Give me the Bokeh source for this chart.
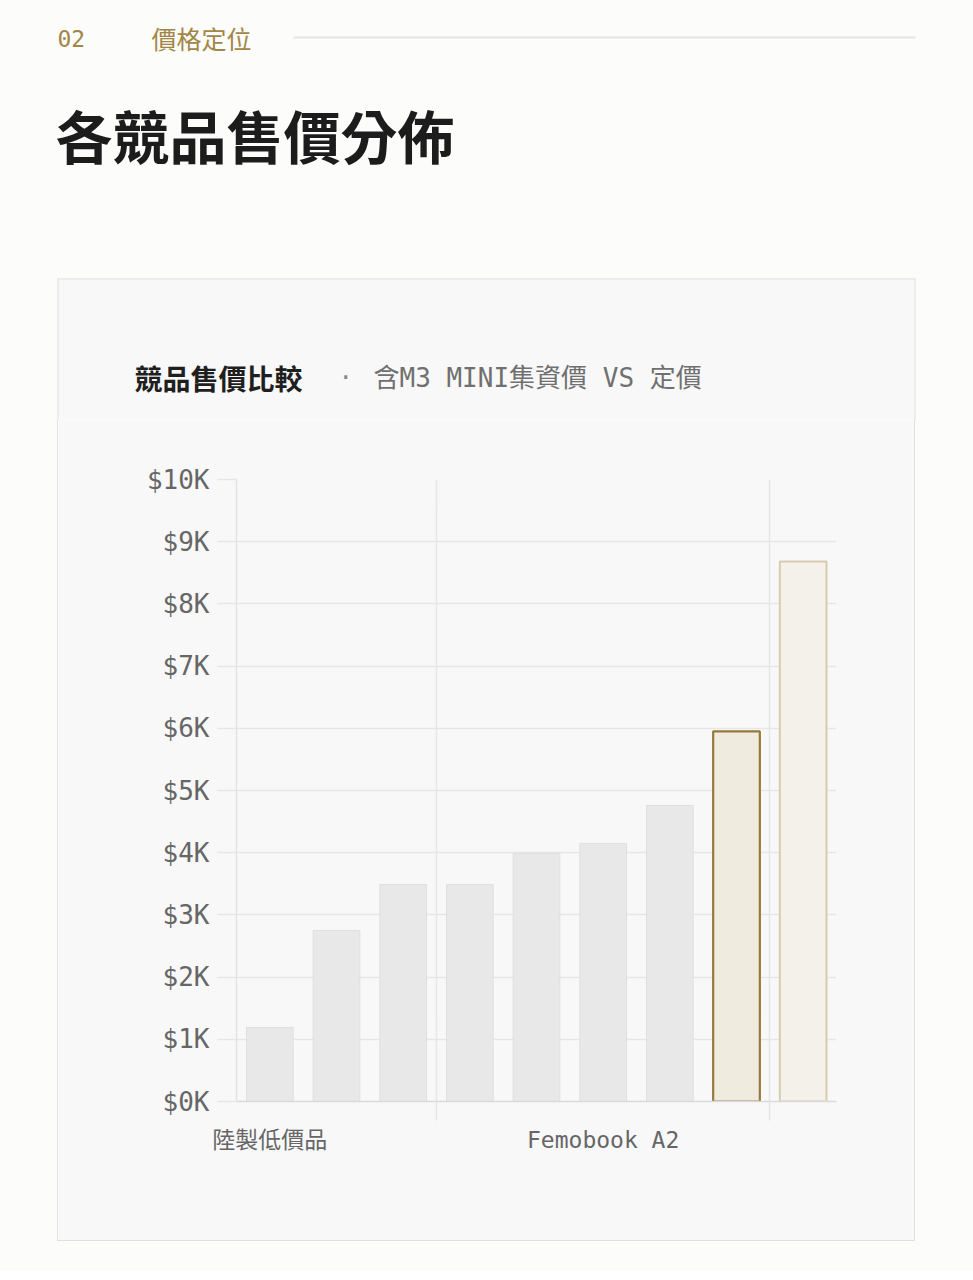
from bokeh.plotting import figure
from bokeh.models import Range1d, FixedTicker, LinearAxis, ColumnDataSource, Grid
from bokeh.layouts import column
from bokeh.embed import file_html
from bokeh.resources import INLINE
from bokeh.core.properties import value

# ---------------- data ----------------
section_no = "02"
section_name = "價格定位"
page_title = "各競品售價分佈"
chart_title = "競品售價比較"
chart_sep = "·"
chart_subtitle = "含M3 MINI集資價 VS 定價"

bar_positions = [0, 1, 2, 3, 4, 5, 6, 7, 8]
prices = [1190, 2750, 3490, 3490, 3990, 4150, 4760, 5950, 8680]
bar_group = ["other", "other", "other", "other", "other", "other", "other",
             "m3_campaign", "m3_list"]

x_label_positions = [0, 5]
x_label_texts = ["陸製低價品", "Femobook A2"]
x_divider_positions = [2.5, 7.5]

y_ticks = [0, 1000, 2000, 3000, 4000, 5000, 6000, 7000, 8000, 9000, 10000]
y_tick_labels = ["$0K", "$1K", "$2K", "$3K", "$4K", "$5K", "$6K", "$7K", "$8K", "$9K", "$10K"]

# ---------------- styles ----------------
PAGE_BG = "#fcfcfb"
CARD_BG = "#f8f8f8"
CARD_BORDER = "#e0e0e0"
GOLD = "#a28645"
GRID = "#e6e6e6"
AXIS_TEXT = "#666666"
MONO = "DejaVu Sans Mono, Noto Sans CJK TC"
CJK = "Noto Sans CJK TC"

fill_by_group = {"other": "#e8e8e8", "m3_campaign": "#f0ebdf", "m3_list": "#f3f1ea"}
line_by_group = {"other": "#dfdfdf", "m3_campaign": "#977a3a", "m3_list": "#d8ccae"}
lw_by_group = {"other": 1, "m3_campaign": 2.2, "m3_list": 2}

PAGE_W = 973
HDR_H = 420
CARD_L, CARD_R, CARD_T, CARD_B = 57, 915, 278, 1241

# ---------------- header (page coordinates) ----------------
hdr = figure(width=PAGE_W, height=HDR_H, x_range=Range1d(0, PAGE_W), y_range=Range1d(HDR_H, 0),
             toolbar_location=None, output_backend="svg", min_border=0,
             x_axis_type=None, y_axis_type=None,
             background_fill_color=PAGE_BG, border_fill_color=PAGE_BG,
             outline_line_color=None)
hdr.text(x=[57], y=[38], text=[section_no], text_font=value("DejaVu Sans Mono"),
         text_font_size="23px", text_color=GOLD, text_baseline="middle")
hdr.text(x=[151], y=[37], text=[section_name], text_font=value(CJK),
         text_font_size="25px", text_color=GOLD, text_baseline="middle")
hdr.segment(x0=[293], y0=[37], x1=[915], y1=[37], line_color="#e4e4e4", line_width=2)
hdr.text(x=[55], y=[133], text=[page_title], text_font=value(CJK),
         text_font_style="bold", text_font_size="57px", text_color="#1c1c1c",
         text_baseline="middle")

# top part of the card
hdr.quad(left=[CARD_L], right=[CARD_R], top=[CARD_T], bottom=[HDR_H + 2],
         fill_color=CARD_BG, line_color=None)
hdr.segment(x0=[CARD_L, CARD_L + 0.5, CARD_R - 0.5], y0=[CARD_T + 0.5, CARD_T, CARD_T],
            x1=[CARD_R, CARD_L + 0.5, CARD_R - 0.5], y1=[CARD_T + 0.5, HDR_H + 2, HDR_H + 2],
            line_color=CARD_BORDER, line_width=1)

# chart title inside card
hdr.text(x=[134], y=[377], text=[chart_title], text_font=value(CJK),
         text_font_style="bold", text_font_size="28px", text_color="#1f1f1f",
         text_baseline="middle")
hdr.text(x=[338], y=[377], text=[chart_sep], text_font=value("DejaVu Sans Mono"),
         text_font_size="24px", text_color="#888888", text_baseline="middle")
hdr.text(x=[373], y=[377], text=[chart_subtitle], text_font=value(MONO),
         text_font_size="26px", text_color="#707070", text_baseline="middle")

# ---------------- chart card ----------------
card_h = CARD_B - HDR_H
p = figure(width=CARD_R - CARD_L, height=card_h, x_range=Range1d(-0.5, 8.5),
           y_range=Range1d(0, 10000),
           toolbar_location=None, output_backend="svg",
           min_border_left=235 - CARD_L, min_border_right=CARD_R - 835,
           min_border_top=479 - HDR_H, min_border_bottom=CARD_B - 1101,
           x_axis_type=None,
           background_fill_color=CARD_BG, border_fill_color=CARD_BG,
           outline_line_color=None)
p.margin = (0, 0, 30, CARD_L)
p.styles = {"border-left": "1px solid " + CARD_BORDER,
            "border-right": "1px solid " + CARD_BORDER,
            "border-bottom": "1px solid " + CARD_BORDER}

for fig in (hdr, p):
    if "frame_align" in fig.properties():
        fig.frame_align = False

src = ColumnDataSource(dict(
    x=bar_positions,
    top=prices,
    fill=[fill_by_group[g] for g in bar_group],
    line=[line_by_group[g] for g in bar_group],
    lw=[lw_by_group[g] for g in bar_group],
))

# grids
p.ygrid.ticker = FixedTicker(ticks=y_ticks)
p.ygrid.grid_line_color = GRID
p.ygrid.grid_line_width = 1.5
p.add_layout(Grid(dimension=0, ticker=FixedTicker(ticks=x_divider_positions),
                  grid_line_color=GRID, grid_line_width=1.5), "center")

p.vbar(x="x", top="top", bottom=0, width=0.7, fill_color="fill", line_color="line",
       line_width="lw", source=src)

# y axis
ya = p.yaxis[0]
ya.ticker = FixedTicker(ticks=y_ticks)
ya.major_label_overrides = dict(zip(y_ticks, y_tick_labels))
ya.major_tick_out = 19
ya.major_tick_in = 0
ya.major_tick_line_color = GRID
ya.major_tick_line_width = 1.5
ya.minor_tick_line_color = None
ya.axis_line_color = "#e2e2e2"
ya.axis_line_width = 1.5
ya.major_label_text_font = MONO
ya.major_label_text_font_size = "26px"
ya.major_label_text_color = AXIS_TEXT
ya.major_label_standoff = 8

# x axis: divider ticks
xa1 = LinearAxis(ticker=FixedTicker(ticks=x_divider_positions),
                 major_label_overrides={t: "" for t in x_divider_positions},
                 major_tick_out=19, major_tick_in=0, major_tick_line_color=GRID,
                 major_tick_line_width=1.5, minor_tick_line_color=None,
                 axis_line_color="#d9d9d9", axis_line_width=1.5,
                 major_label_standoff=0, major_label_text_font_size="1px")
p.add_layout(xa1, "below")

# x axis: category labels
xa2 = LinearAxis(ticker=FixedTicker(ticks=x_label_positions),
                 major_label_overrides=dict(zip(x_label_positions, x_label_texts)),
                 major_tick_line_color=None, minor_tick_line_color=None,
                 axis_line_color=None, major_label_standoff=0,
                 major_label_text_font=MONO, major_label_text_font_size="23px",
                 major_label_text_color=AXIS_TEXT)
p.add_layout(xa2, "below")

layout = column(hdr, p, styles={"background": PAGE_BG})

open("out.html", "w").write(file_html(layout, INLINE))
